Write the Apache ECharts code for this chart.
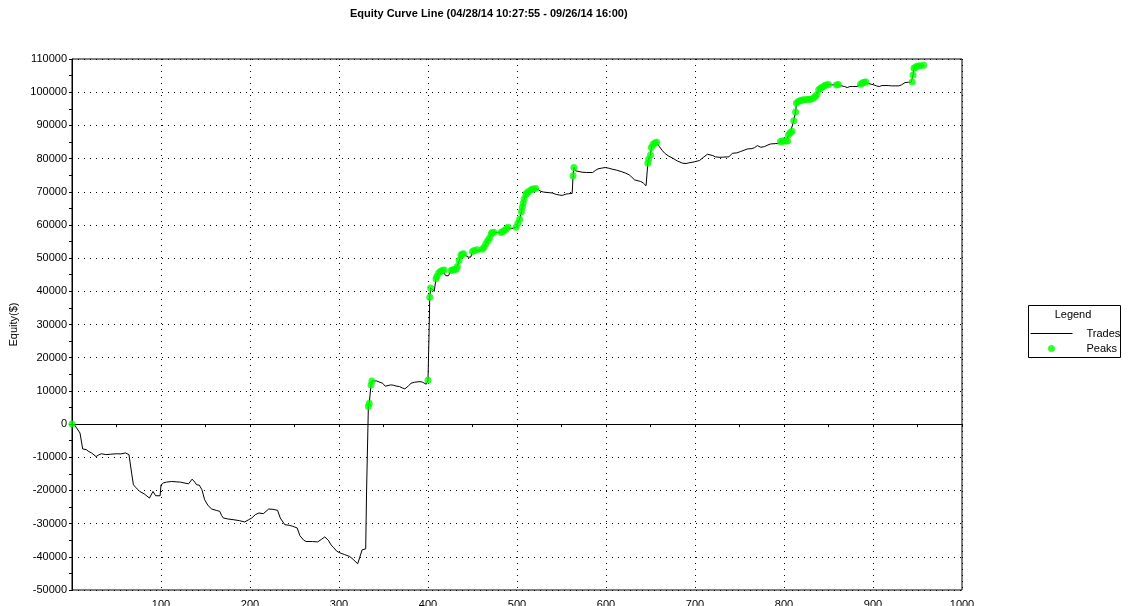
<!DOCTYPE html>
<html>
<head>
<meta charset="utf-8">
<script src="https://cdn.jsdelivr.net/npm/echarts@6/dist/echarts.min.js"></script>
<style>
  html, body { margin: 0; padding: 0; background: #fff; }
  #chart { width: 1128px; height: 606px; }
</style>
</head>
<body>
<div id="chart"></div>
<script>
// 交易序号 / 权益值，从图上读出来的点
const trades = [
  [0, 0], [3, -300], [5, -500], [9, -2700], [12, -7500], [16, -7700], [19, -8300], [22, -8700],
  [27, -9800], [30, -9300], [33, -8950], [38, -9200], [43, -9100], [50, -8950], [55, -9000],
  [60, -8700], [64, -9200], [65, -9800], [67, -14800], [69, -18300], [72, -19200], [76, -20300],
  [81, -21000], [87, -22300], [91, -20300], [94, -21600], [96, -22000], [99, -21600], [100, -18300],
  [103, -17700], [106, -17500], [112, -17300], [117, -17400], [122, -17500], [127, -17800],
  [131, -18000], [135, -16600], [138, -17500], [140, -18300], [143, -18400], [146, -19800],
  [149, -22800], [153, -24600], [157, -25600], [162, -26000], [166, -26300], [168, -27500],
  [170, -28300], [175, -28600], [181, -28800], [188, -29100], [194, -29500], [198, -28900],
  [202, -28300], [206, -27300], [210, -26800], [215, -27000], [218, -26300], [221, -25600],
  [226, -25700], [231, -26000], [234, -28300], [239, -30300], [244, -30500], [248, -30800],
  [253, -31300], [256, -33600], [260, -34900], [263, -35400], [270, -35400], [276, -35500],
  [280, -34800], [284, -34000], [288, -35000], [291, -36400], [294, -37200], [297, -38200],
  [300, -38700], [306, -39300], [312, -39900], [316, -40800], [321, -42100], [323, -42000],
  [326, -37900], [328, -37700], [330, -37600], [331, -20000], [333, 5300], [334, 6300],
  [336, 11800], [337, 13000], [342, 13000], [346, 12600], [349, 12300], [352, 11400],
  [354, 11000], [358, 11800], [361, 11700], [365, 11400], [368, 11300], [371, 10900],
  [374, 10600], [378, 11500], [381, 12300], [385, 12600], [387, 12800], [391, 12800],
  [394, 12600], [398, 12000], [400, 13200], [401, 25000], [402, 38200], [403, 41000],
  [405, 40500], [407, 40000], [409, 43800], [410, 44500], [412, 45500], [414, 46000],
  [416, 46300], [418, 46400], [420, 44700], [423, 44700], [426, 46300], [428, 46500],
  [430, 46500], [432, 46700], [433, 47500], [435, 49300], [437, 50800], [438, 51200],
  [440, 51300], [442, 50900], [445, 50300], [448, 50300], [450, 52000], [452, 52300],
  [455, 52500], [458, 52100], [460, 52000], [461, 52700], [463, 53300], [465, 54300],
  [467, 55200], [469, 56000], [471, 57200], [472, 57700], [474, 57800], [478, 57600],
  [482, 57700], [484, 58000], [486, 58300], [488, 58800], [490, 59300], [494, 58900],
  [496, 58700], [499, 59300], [501, 60500], [503, 61700], [505, 64000], [506, 65300],
  [507, 66500], [508, 67800], [510, 69200], [511, 69600], [513, 70100], [516, 70600],
  [518, 70800], [521, 71000], [524, 70600], [527, 70100], [530, 69900], [533, 69800],
  [537, 69700], [540, 69600], [544, 69200], [548, 69000], [551, 68900], [555, 69300],
  [558, 69400], [562, 69500], [563, 74800], [564, 77300], [566, 76300], [568, 75800],
  [573, 75900], [578, 75800], [585, 75800], [588, 76400], [591, 76900], [595, 77100],
  [599, 77300], [603, 77100], [607, 76800], [612, 76500], [617, 76100], [622, 75600],
  [626, 75100], [629, 74400], [632, 73600], [636, 73300], [639, 73100], [642, 72600],
  [645, 71800], [646, 72100], [647, 78600], [648, 79800], [650, 81100], [651, 83300],
  [653, 84300], [655, 84700], [657, 84900], [660, 83600], [663, 82500], [666, 81600],
  [670, 80800], [675, 80100], [680, 79300], [686, 78600], [690, 78500], [693, 78700],
  [699, 79000], [705, 79400], [710, 80500], [714, 81300], [716, 81400], [720, 80900],
  [723, 80500], [727, 80400], [731, 80400], [735, 80500], [738, 80500], [742, 81600],
  [747, 81700], [751, 82100], [755, 82500], [759, 82900], [764, 83000], [767, 83300],
  [770, 83900], [772, 83500], [774, 83400], [778, 83600], [782, 84100], [785, 84400],
  [790, 84500], [794, 84600], [796, 85100], [798, 85300], [800, 85300], [802, 85300],
  [804, 85300], [805, 87100], [807, 87800], [809, 88200], [811, 91400], [813, 94000],
  [814, 96700], [816, 97200], [818, 97400], [820, 97600], [822, 97700], [825, 97800],
  [828, 97900], [830, 97900], [833, 98200], [835, 98600], [837, 99200], [839, 100700],
  [841, 101200], [843, 101500], [845, 101900], [847, 102200], [850, 102300], [854, 102200],
  [859, 102200], [861, 102300], [865, 101900], [868, 101700], [871, 101400], [874, 101700],
  [877, 101700], [882, 101700], [884, 102000], [886, 102400], [888, 102800], [890, 103000],
  [892, 103100], [895, 102600], [897, 102400], [901, 102200], [904, 101900], [907, 101700],
  [910, 102000], [912, 102100], [917, 102000], [921, 101900], [925, 101900], [929, 101900],
  [932, 102200], [934, 102500], [936, 102900], [940, 103000], [943, 103000], [944, 103100],
  [945, 105200], [946, 107200], [948, 107600], [950, 107900], [953, 108000], [957, 108100]
]

// 新高点（绿点）
const peaks = [
  [0, 0],
  [333, 5300], [334, 6300], [336, 11800], [337, 13000],
  [400, 13200], [402, 38200], [403, 41000],
  [409, 43800], [410, 44500], [412, 45500], [414, 46000], [416, 46300], [418, 46400],
  [426, 46300], [428, 46500], [430, 46500], [432, 46700], [433, 47500], [435, 49300],
  [437, 50800], [438, 51200], [440, 51300],
  [450, 52000], [452, 52300], [455, 52500],
  [461, 52700], [463, 53300], [465, 54300], [467, 55200], [469, 56000], [471, 57200],
  [472, 57700], [474, 57800],
  [482, 57700], [484, 58000], [486, 58300], [488, 58800], [490, 59300],
  [499, 59300], [501, 60500], [503, 61700], [505, 64000], [506, 65300], [507, 66500],
  [508, 67800], [510, 69200], [511, 69600], [513, 70100], [516, 70600], [518, 70800], [521, 71000],
  [563, 74800], [564, 77300],
  [647, 78600], [648, 79800], [650, 81100], [651, 83300], [653, 84300], [655, 84700], [657, 84900],
  [796, 85100], [798, 85300], [800, 85300], [802, 85300], [804, 85300], [805, 87100],
  [807, 87800], [809, 88200], [811, 91400], [813, 94000], [814, 96700], [816, 97200],
  [818, 97400], [820, 97600], [822, 97700], [825, 97800], [828, 97900], [830, 97900],
  [833, 98200], [835, 98600], [837, 99200], [839, 100700], [841, 101200], [843, 101500],
  [845, 101900], [847, 102200], [850, 102300],
  [859, 102200], [861, 102300],
  [886, 102400], [888, 102800], [890, 103000], [892, 103100],
  [944, 103100], [945, 105200], [946, 107200], [948, 107600], [950, 107900], [953, 108000], [957, 108100]
]

const xTicks = { min: 0, max: 1000, step: 100, minor: 50 }
const yTicks = { min: -50000, max: 110000, step: 10000 }

const FONT = 'Liberation Sans, Arial, sans-serif'
const dots = { color: '#000', width: 1, type: [1, 5] }

let myChart = echarts.init(document.getElementById('chart'), null, { renderer: 'canvas' })
let option = {
  animation: false,
  backgroundColor: '#fff',
  textStyle: { fontFamily: FONT },
  title: {
    text: 'Equity Curve Line (04/28/14 10:27:55 - 09/26/14 16:00)',
    left: 345,
    top: 3,
    textStyle: { fontSize: 11, fontWeight: 'bold', color: '#000', fontFamily: FONT }
  },
  grid: {
    left: 72,
    right: 166,
    top: 59,
    bottom: 16,
    show: true,
    borderColor: '#000',
    borderWidth: 1,
    containLabel: false,
    outerBoundsMode: 'none'
  },
  legend: {
    orient: 'vertical',
    left: 1030,
    top: 327,
    padding: 0,
    itemGap: 2,
    itemWidth: 42,
    itemHeight: 7,
    textStyle: { fontSize: 11, color: '#000', fontFamily: FONT, lineHeight: 13, padding: [0, 0, 0, 9] },
    data: [
      {
        name: 'Trades',
        itemStyle: { color: 'rgba(0,0,0,0)', borderWidth: 0 },
        lineStyle: { color: '#000', width: 1 }
      },
      { name: 'Peaks', icon: 'circle' }
    ]
  },
  graphic: [
    {
      type: 'rect',
      shape: { x: 1028.5, y: 305.5, width: 92, height: 52 },
      style: { fill: 'none', stroke: '#000', lineWidth: 1 },
      silent: true
    },
    {
      type: 'text',
      x: 1073,
      y: 315,
      style: { text: 'Legend', fontSize: 11, fontFamily: FONT, fill: '#000', align: 'center', verticalAlign: 'middle' },
      silent: true
    }
  ],
  xAxis: [
    {
      type: 'value',
      min: xTicks.min,
      max: xTicks.max,
      interval: xTicks.step,
      position: 'bottom',
      axisLine: { show: false, onZero: false },
      axisTick: { show: false },
      axisLabel: {
        fontSize: 11,
        color: '#000',
        margin: 9,
        formatter: v => (v === 0 ? '' : String(v))
      },
      splitLine: { show: true, lineStyle: dots }
    },
    {
      // 0 那条实线，带 50 一格的小刻度
      type: 'value',
      min: xTicks.min,
      max: xTicks.max,
      interval: xTicks.minor,
      position: 'bottom',
      axisLine: { show: true, onZero: true, lineStyle: { color: '#000', width: 1 } },
      axisTick: { show: true, length: 3, lineStyle: { color: '#000' } },
      axisLabel: { show: false },
      splitLine: { show: false }
    }
  ],
  yAxis: {
    type: 'value',
    min: yTicks.min,
    max: yTicks.max,
    interval: yTicks.step,
    name: 'Equity($)',
    nameLocation: 'middle',
    nameGap: 48,
    nameTextStyle: { fontSize: 11, color: '#000', fontFamily: FONT },
    axisLine: { show: true, lineStyle: { color: '#000', width: 1 } },
    axisTick: { show: true, length: 3, lineStyle: { color: '#000' } },
    minorTick: { show: true, splitNumber: 2, length: 3, lineStyle: { color: '#000' } },
    axisLabel: { fontSize: 11, color: '#000', margin: 5, formatter: v => String(v) },
    splitLine: { show: true, lineStyle: dots }
  },
  series: [
    {
      name: 'Trades',
      type: 'line',
      xAxisIndex: 0,
      data: trades,
      symbol: 'none',
      lineStyle: { color: '#000', width: 1 },
      itemStyle: { color: '#000' },
      z: 3
    },
    {
      name: 'Peaks',
      type: 'scatter',
      xAxisIndex: 0,
      data: peaks,
      symbol: 'circle',
      symbolSize: 7,
      itemStyle: { color: '#00ff00' },
      z: 4
    }
  ]
}

myChart.setOption(option)
</script>
</body>
</html>
